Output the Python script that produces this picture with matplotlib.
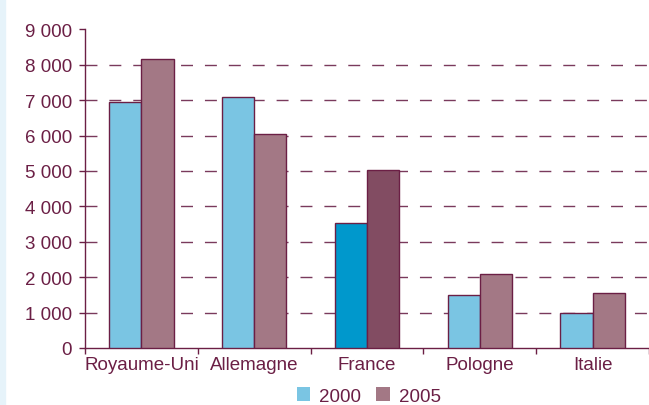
import matplotlib
matplotlib.use("Agg")
import matplotlib.pyplot as plt
from matplotlib.patches import Patch, Rectangle
from matplotlib.ticker import FuncFormatter

# ── Data ───────────────────────────────────────────────────────────────
countries = ["Royaume-Uni", "Allemagne", "France", "Pologne", "Italie"]
values_2000 = [6950, 7100, 3530, 1500, 1000]
values_2005 = [8150, 6050, 5020, 2090, 1560]
series_labels = ["2000", "2005"]
y_ticks = [0, 1000, 2000, 3000, 4000, 5000, 6000, 7000, 8000, 9000]
highlight = "France"

# ── Style ──────────────────────────────────────────────────────────────
TEXT = "#6B1F45"
EDGE = "#6B1F45"
GRID = "#7A3A5C"
C2000, C2005 = "#7AC5E3", "#A37885"
C2000_HI, C2005_HI = "#0098CC", "#824C62"
FS = 13.5

plt.rcParams["font.family"] = ["Liberation Sans", "DejaVu Sans"]

fig = plt.figure(figsize=(6.49, 4.06), dpi=100)
fig.patches.append(Rectangle((0, 0), 5 / 649, 1, transform=fig.transFigure,
                             color="#E6F3FA", zorder=0))

ax = fig.add_axes([85 / 649, 57 / 406, 564 / 649, 318.6 / 406])

width = 0.285
for i, name in enumerate(countries):
    hi = name == highlight
    ax.bar(i - width / 2, values_2000[i], width, color=C2000_HI if hi else C2000,
           edgecolor=EDGE, linewidth=1, zorder=3)
    ax.bar(i + width / 2, values_2005[i], width, color=C2005_HI if hi else C2005,
           edgecolor=EDGE, linewidth=1, zorder=3)

ax.set_ylim(0, 9000)
ax.set_xlim(-0.5, -0.5 + 564 / 114)
ax.set_yticks(y_ticks)
ax.yaxis.set_major_formatter(FuncFormatter(lambda v, p: f"{int(v):,}".replace(",", " ")))

# dashed grid (not at 0 nor 9000)
for v in y_ticks[1:-1]:
    ax.axhline(v, color=GRID, linewidth=1, dashes=(8.6, 8.6), zorder=1)

# category labels centred, ticks at boundaries
ax.set_xticks(range(len(countries)))
ax.set_xticklabels(countries)
ax.tick_params(axis="x", which="major", length=0, pad=6, labelsize=FS, labelcolor=TEXT)
ax.set_xticks([i - 0.5 for i in range(len(countries) + 1)], minor=True)
ax.tick_params(axis="x", which="minor", length=4, width=1, color=EDGE, direction="out")
ax.tick_params(axis="y", length=4, width=1, color=EDGE, pad=5.5, labelsize=FS,
               labelcolor=TEXT)

for s in ["top", "right"]:
    ax.spines[s].set_visible(False)
for s in ["left", "bottom"]:
    ax.spines[s].set_color(EDGE)
    ax.spines[s].set_linewidth(1)

handles = [Patch(facecolor=C2000, edgecolor="none"), Patch(facecolor=C2005, edgecolor="none")]
fig.legend(handles, series_labels, loc="center", bbox_to_anchor=(369 / 649, 1 - 397 / 406),
           ncol=2, frameon=False, fontsize=FS, labelcolor=TEXT,
           handlelength=0.72, handleheight=0.72, handletextpad=0.5, columnspacing=0.8)

fig.savefig("out.png", dpi=100)
